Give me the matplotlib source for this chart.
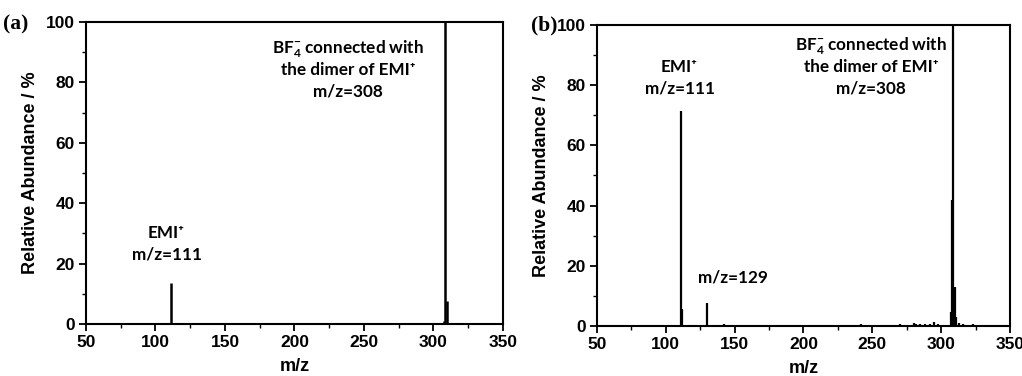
import matplotlib
matplotlib.use("Agg")
import matplotlib.pyplot as plt
from matplotlib.ticker import MultipleLocator

plt.rcParams['mathtext.fontset'] = 'custom'
plt.rcParams['mathtext.rm'] = 'Lato:bold'
plt.rcParams['mathtext.it'] = 'Lato:bold'
plt.rcParams['mathtext.bf'] = 'Lato:bold'

# Panel (a) spectrum
mz_a = [111, 307.5, 308.5, 309.5]
ab_a = [13.5, 1.0, 100.0, 7.5]

# Panel (b) spectrum
mz_b = [97, 111, 112, 118, 127, 130, 131, 142, 146, 212, 220, 228, 236, 242, 250, 258, 266, 270, 276, 280, 282, 285, 288, 292, 295, 298, 302,
        307.5, 308, 308.8, 310, 311, 313, 316, 323]
ab_b = [0.2, 71.5, 5.5, 0.3, 0.2, 7.5, 0.4, 0.5, 0.2, 0.2, 0.3, 0.3, 0.3, 0.5, 0.4, 0.3, 0.3, 0.6, 0.4, 1.0, 0.7, 0.8, 0.6, 0.5, 1.2, 0.6, 0.4,
        4.5, 42.0, 100.0, 13.0, 3.0, 1.0, 0.5, 0.8]

xticks = [50, 100, 150, 200, 250, 300, 350]
yticks = [0, 20, 40, 60, 80, 100]

ann_font = ['Lato', 'DejaVu Sans']
tick_font = 'Liberation Sans'

fig = plt.figure(figsize=(10.22, 3.76), dpi=100)
ax_a = fig.add_axes([0.0841, 0.1383, 0.408, 0.8032])
ax_b = fig.add_axes([0.5841, 0.1330, 0.4041, 0.8005])

def style(ax):
    ax.set_xlim(50, 350)
    ax.set_ylim(0, 100)
    ax.set_xticks(xticks)
    ax.set_yticks(yticks)
    ax.xaxis.set_minor_locator(MultipleLocator(25))
    ax.yaxis.set_minor_locator(MultipleLocator(10))
    ax.tick_params(which='major', direction='out', length=5, width=1.3, top=False, right=False, pad=3)
    ax.tick_params(which='minor', direction='out', length=3, width=1.0, top=False, right=False)
    for s in ax.spines.values():
        s.set_linewidth(1.5)
    for lab in ax.get_xticklabels() + ax.get_yticklabels():
        lab.set_fontfamily(tick_font)
        lab.set_fontweight('bold')
        lab.set_fontsize(12.5)
    ax.set_xlabel('m/z', fontfamily=tick_font, fontweight='bold', fontsize=13, labelpad=6)
    ax.set_ylabel('Relative Abundance / %', fontfamily=tick_font, fontweight='bold', fontsize=13, labelpad=5)

ax_a.vlines(mz_a, 0, ab_a, colors='black', linewidth=1.8)
ax_b.vlines(mz_b, 0, ab_b, colors='black', linewidth=1.6)
style(ax_a)
style(ax_b)

kw = dict(fontfamily=ann_font, fontweight='bold', fontsize=12.3, ha='center', va='center')
ax_a.text(108, 30, 'EMI\u207a', **kw)
ax_a.text(108, 23, 'm/z=111', **kw)
ax_a.text(238.5, 91, 'BF$_4^{-}$ connected with', **kw)
ax_a.text(238.5, 84, 'the dimer of EMI\u207a', **kw)
ax_a.text(238.5, 77, 'm/z=308', **kw)

ax_b.text(110, 86, 'EMI\u207a', **kw)
ax_b.text(110, 79, 'm/z=111', **kw)
ax_b.text(149, 16, 'm/z=129', **kw)
ax_b.text(249, 93, 'BF$_4^{-}$ connected with', **kw)
ax_b.text(249, 86, 'the dimer of EMI\u207a', **kw)
ax_b.text(249, 79, 'm/z=308', **kw)

fig.text(0.003, 0.935, '(a)', fontfamily='Liberation Serif', fontweight='bold', fontsize=15.5, ha='left', va='center')
fig.text(0.52, 0.933, '(b)', fontfamily='Liberation Serif', fontweight='bold', fontsize=15.5, ha='left', va='center')

fig.savefig('out.png', dpi=100)
